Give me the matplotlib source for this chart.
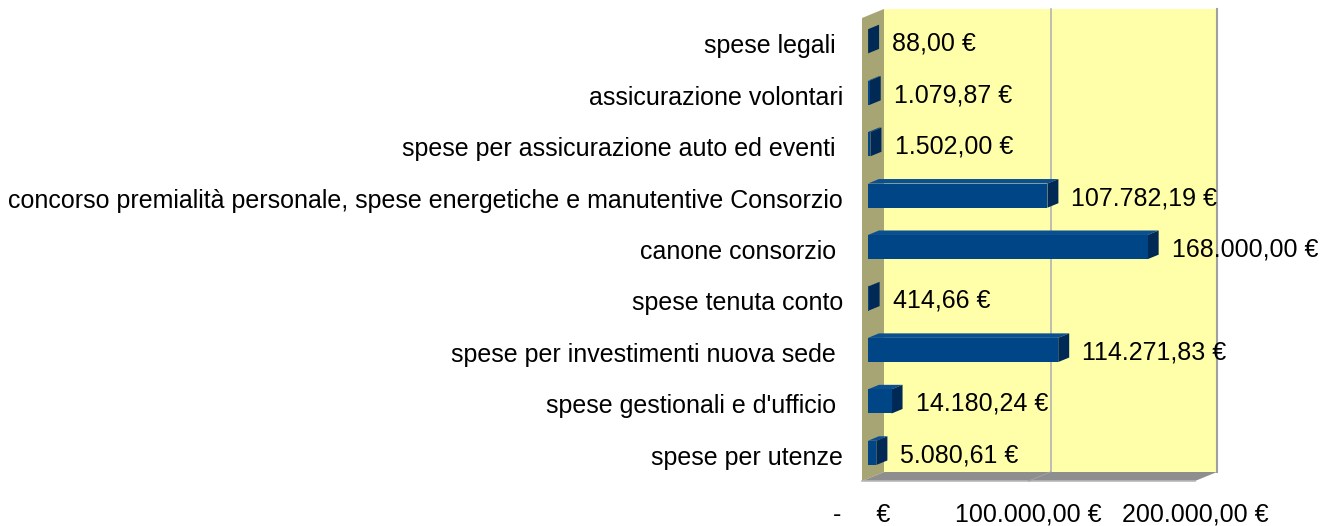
import matplotlib
matplotlib.use("Agg")
import matplotlib.pyplot as plt
from matplotlib.patches import Polygon
from matplotlib.lines import Line2D
from matplotlib.transforms import IdentityTransform

# data, top to bottom as in the chart
categories = [
    "spese legali ",
    "assicurazione volontari",
    "spese per assicurazione auto ed eventi ",
    "concorso premialità personale, spese energetiche e manutentive Consorzio",
    "canone consorzio ",
    "spese tenuta conto",
    "spese per investimenti nuova sede ",
    "spese gestionali e d'ufficio ",
    "spese per utenze",
]
values = [88.00, 1079.87, 1502.00, 107782.19, 168000.00, 414.66, 114271.83, 14180.24, 5080.61]
tick_values = [0, 100000, 200000]
tick_labels = ["-     €", "100.000,00 €", "200.000,00 €"]


def euro(v):
    s = f"{v:,.2f}"
    return s.replace(",", "X").replace(".", ",").replace("X", ".") + " €"


plt.rcParams['font.family'] = ['Liberation Sans', 'DejaVu Sans']
FS = 18

W, H = 1326, 526
fig = plt.figure(figsize=(W / 100, H / 100), dpi=100)
ax = fig.add_axes([862 / W, (H - 481) / H, (1195 - 862) / W, (481 - 18) / H])
n = len(categories)
xmax = tick_values[-1]
ax.set_xlim(0, xmax)
ax.set_ylim(-0.5, n - 0.5)
ax.patch.set_visible(False)
for s in ax.spines.values():
    s.set_visible(False)

DEPTH = (22, 9)  # pixels, front -> back


def pt(x, y, d=0.0):
    px, py = ax.transData.transform((x, y))
    return (px + d * DEPTH[0], py + d * DEPTH[1])


def face(pts, color, z):
    ax.add_patch(Polygon(pts, closed=True, facecolor=color, edgecolor='none',
                         transform=IdentityTransform(), zorder=z, clip_on=False))


def line(p0, p1, color, z, lw=1.2):
    ax.add_line(Line2D([p0[0], p1[0]], [p0[1], p1[1]], color=color, lw=lw,
                       transform=IdentityTransform(), zorder=z, clip_on=False))


bot, top = -0.5, n - 0.5

# walls and floor
face([pt(0, bot, 1), pt(xmax, bot, 1), pt(xmax, top, 1), pt(0, top, 1)], '#ffffaa', 0)
face([pt(0, bot, 0), pt(0, top, 0), pt(0, top, 1), pt(0, bot, 1)], '#a8a574', 1)
face([pt(0, bot, 0), pt(xmax, bot, 0), pt(xmax, bot, 1), pt(0, bot, 1)], '#8e8e8e', 1)
line(pt(0, bot, 0), pt(xmax, bot, 0), '#b8b8b8', 1.5)
line(pt(xmax, bot, 1), pt(xmax, top, 1), '#a0a0a0', 0.5, lw=1.5)
line(pt(tick_values[1], bot, 1), pt(tick_values[1], top, 1), '#b3b3b3', 0.5)
line(pt(tick_values[1], bot, 0), pt(tick_values[1], bot, 1), '#a0a0a0', 1.5, lw=0.8)

# 3d bars
d0, d1 = 0.27, 0.77
h = 0.235
for i, (cat, v) in enumerate(zip(categories, values)):
    y = n - 1 - i
    face([pt(0, y + h, d0), pt(v, y + h, d0), pt(v, y + h, d1), pt(0, y + h, d1)], '#0b4f90', 3)
    face([pt(v, y - h, d0), pt(v, y + h, d0), pt(v, y + h, d1), pt(v, y - h, d1)], '#002a55', 3)
    face([pt(0, y - h, d0), pt(v, y - h, d0), pt(v, y + h, d0), pt(0, y + h, d0)], '#004586', 4)
    ax.annotate(euro(v), xy=(v, y), xytext=(21.6, 0), textcoords='offset points',
                ha='left', va='center', fontsize=FS, color='black', zorder=5,
                annotation_clip=False)

ax.set_xticks(tick_values, tick_labels, fontsize=FS)
ax.set_yticks(range(n), categories[::-1], fontsize=FS)
ax.tick_params(axis='x', length=0, pad=15.5)
ax.tick_params(axis='y', length=0, pad=13.7)

fig.savefig("out.png", dpi=100)
